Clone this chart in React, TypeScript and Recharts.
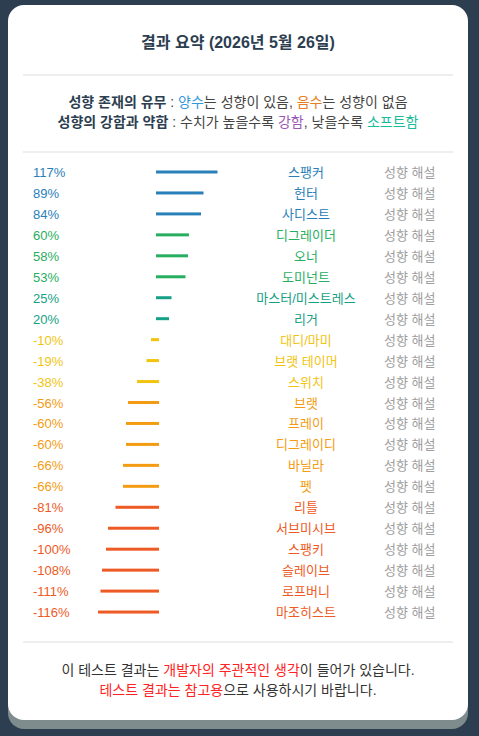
import { Bar, BarChart, LabelList, XAxis, YAxis } from 'recharts';

const names = [
  '스팽커', '헌터', '사디스트', '디그레이더', '오너', '도미넌트', '마스터/미스트레스', '리거',
  '대디/마미', '브랫 테이머', '스위치', '브랫', '프레이', '디그레이디', '바닐라', '펫',
  '리틀', '서브미시브', '스팽키', '슬레이브', '로프버니', '마조히스트',
];
const values = [117, 89, 84, 60, 58, 53, 25, 20, -10, -19, -38, -56, -60, -60, -66, -66, -81, -96, -100, -108, -111, -116];
const linkText = '성향 해설';

const data = names.map((name, i) => ({ name, value: values[i] }));

const FONT = "'Liberation Sans', 'Noto Sans CJK KR', sans-serif";

function tierColor(v: number) {
  if (v >= 80) return '#2980b9';
  if (v >= 50) return '#27ae60';
  if (v > 0) return '#16a085';
  if (v > -50) return '#f1c40f';
  if (v > -70) return '#f39c12';
  return '#ee5a24';
}

function RowLabel(props: any) {
  const { y, height, index } = props;
  const v = values[index];
  const c = tierColor(v);
  const cy = y + height / 2;
  return (
    <g fontFamily={FONT} fontSize={13}>
      <text x={25} y={cy} dy={5} fill={c} textAnchor="start">{v}%</text>
      <text x={298} y={cy} dy={5} fill={c} textAnchor="middle">{names[index]}</text>
      <text x={376} y={cy} dy={5} fill="#9e9e9e" textAnchor="start">{linkText}</text>
    </g>
  );
}

function CapBar(props: any) {
  const { x, y, width, height, value } = props;
  const left = Math.min(x, x + width);
  const w = Math.abs(width);
  const v = Array.isArray(value) ? value[1] - value[0] : value;
  return <rect x={left - 1.5} y={y} width={w + 3} height={height} fill={tierColor(v)} />;
}

const hr = (top: number) => (
  <div style={{ position: 'absolute', left: 15, top, width: 430, height: 2, background: '#eee' }} />
);

export default function App() {
  return (
    <div style={{ position: 'relative', width: 479, height: 736, background: '#2c3e50', fontFamily: FONT }}>
      <style>{'body{margin:0}'}</style>
      <div
        style={{
          position: 'absolute', left: 8, top: 5, width: 460, height: 715, background: '#fff',
          borderRadius: 16, boxShadow: '0 9px 0 #7f8c8d',
        }}
      >
        <div style={{ position: 'absolute', top: 28, left: 0, width: 460, textAlign: 'center', lineHeight: '20px', fontSize: 16, fontWeight: 'bold', color: '#2c3e50' }}>
          결과 요약 (2026년 5월 26일)
        </div>
        {hr(69)}
        <div style={{ position: 'absolute', top: 86.5, left: 0, width: 460, textAlign: 'center', lineHeight: '20px', fontSize: 14, color: '#444' }}>
          <div>
            <b style={{ color: '#2c3e50' }}>성향 존재의 유무</b> : <span style={{ color: '#3498db' }}>양수</span>는 성향이 있음,{' '}
            <span style={{ color: '#e67e22' }}>음수</span>는 성향이 없음
          </div>
          <div>
            <b style={{ color: '#2c3e50' }}>성향의 강함과 약함</b> : 수치가 높을수록 <span style={{ color: '#9b59b6' }}>강함</span>, 낮을수록{' '}
            <span style={{ color: '#1abc9c' }}>소프트함</span>
          </div>
        </div>
        {hr(146)}
        <div style={{ position: 'absolute', top: 150, left: 0 }}>
          <BarChart
            width={460}
            height={474}
            data={data}
            layout="vertical"
            margin={{ top: 6.5, right: 250.5, bottom: 6.5, left: 89.5 }}
          >
            <XAxis type="number" domain={[-120, 120]} hide />
            <YAxis type="category" dataKey="name" hide />
            <Bar dataKey="value" barSize={3} shape={CapBar} isAnimationActive={false}>
              <LabelList dataKey="name" content={RowLabel} />
            </Bar>
          </BarChart>
        </div>
        {hr(636)}
        <div style={{ position: 'absolute', top: 655, left: 0, width: 460, textAlign: 'center', lineHeight: '20px', fontSize: 14, color: '#333' }}>
          <div>
            이 테스트 결과는 <span style={{ color: '#f22' }}>개발자의 주관적인 생각</span>이 들어가 있습니다.
          </div>
          <div>
            <span style={{ color: '#f22' }}>테스트 결과는 참고용</span>으로 사용하시기 바랍니다.
          </div>
        </div>
      </div>
    </div>
  );
}
